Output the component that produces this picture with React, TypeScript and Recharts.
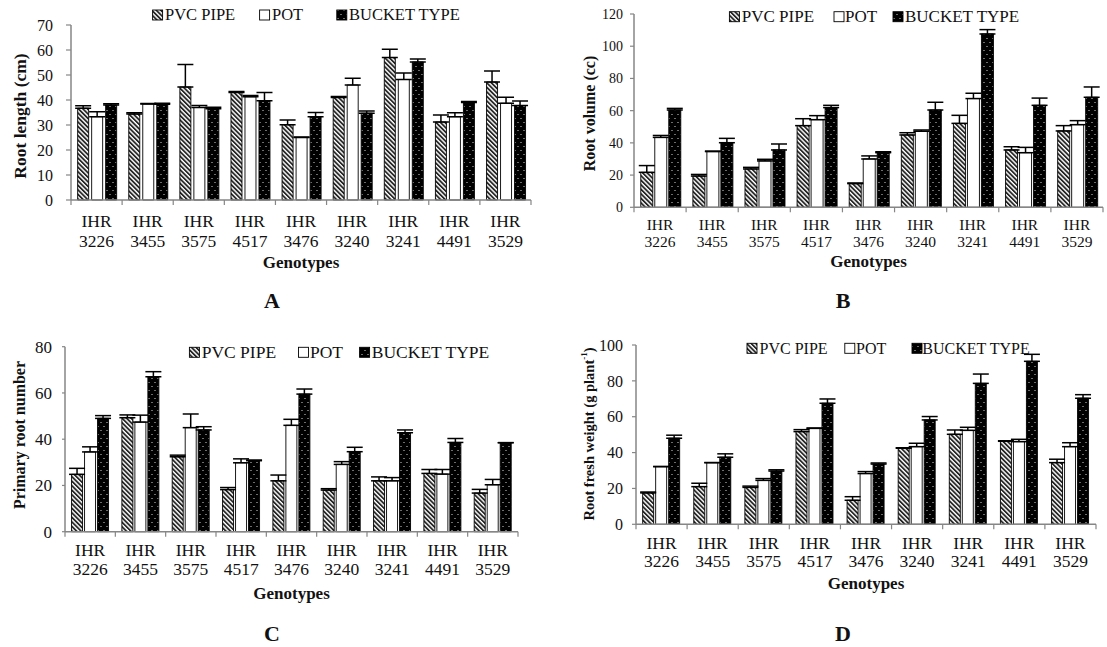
import React from 'react';
import { BarChart, Bar, XAxis, YAxis, ErrorBar, Legend, Label } from 'recharts';

// ---------------- data ----------------
const genotypes = ['IHR 3226', 'IHR 3455', 'IHR 3575', 'IHR 4517', 'IHR 3476', 'IHR 3240', 'IHR 3241', 'IHR 4491', 'IHR 3529'];
const seriesNames = ['PVC PIPE', 'POT', 'BUCKET TYPE'];

// A: Root length (cm)
const lengthPvc = [36.7, 34.4, 45.2, 43.0, 30.1, 41.0, 57.0, 31.2, 47.2];
const lengthPvcErr = [1.0, 0.5, 9.0, 0.4, 1.9, 0.4, 3.3, 2.8, 4.4];
const lengthPot = [33.3, 38.4, 37.0, 41.3, 25.0, 46.0, 48.2, 33.3, 38.7];
const lengthPotErr = [2.0, 0.2, 0.8, 0.5, 0.2, 2.7, 2.6, 1.6, 2.4];
const lengthBucket = [38.0, 38.3, 36.5, 39.7, 33.3, 34.7, 55.2, 39.0, 37.8];
const lengthBucketErr = [0.5, 0.4, 0.6, 3.3, 1.7, 0.9, 1.2, 0.4, 1.8];
const lengthTicks = [0, 10, 20, 30, 40, 50, 60, 70];

// B: Root volume (cc)
const volumePvc = [21.7, 19.4, 23.8, 50.7, 14.7, 44.9, 52.1, 35.6, 47.4];
const volumePvcErr = [4.2, 1.0, 1.0, 4.3, 0.4, 1.4, 5.0, 2.0, 3.3];
const volumePot = [43.4, 34.6, 28.8, 54.4, 30.0, 47.2, 67.5, 33.9, 51.3];
const volumePotErr = [1.2, 0.3, 1.0, 2.5, 1.9, 0.8, 3.3, 3.3, 2.5];
const volumeBucket = [60.4, 40.1, 35.6, 61.9, 33.9, 60.4, 107.6, 63.3, 68.3];
const volumeBucketErr = [1.0, 2.7, 3.7, 1.4, 0.6, 4.8, 2.7, 4.5, 6.4];
const volumeTicks = [0, 20, 40, 60, 80, 100, 120];

// C: Primary root number
const numberPvc = [24.8, 49.3, 32.4, 18.2, 22.0, 18.0, 22.0, 25.2, 16.7];
const numberPvcErr = [2.6, 1.2, 0.7, 0.9, 2.5, 0.6, 1.7, 1.7, 1.6];
const numberPot = [34.5, 47.4, 45.0, 29.8, 46.0, 29.1, 22.0, 24.9, 20.3];
const numberPotErr = [2.2, 3.0, 5.9, 1.7, 2.6, 1.2, 1.4, 2.0, 2.3];
const numberBucket = [49.0, 67.0, 44.0, 30.7, 59.5, 34.6, 42.8, 38.6, 38.5];
const numberBucketErr = [1.2, 2.2, 1.4, 0.3, 2.2, 1.9, 1.2, 1.7, 0];
const numberTicks = [0, 20, 40, 60, 80];

// D: Root fresh weight (g plant-1)
const weightPvc = [17.5, 21.0, 20.6, 51.7, 13.4, 42.4, 50.2, 46.3, 34.4];
const weightPvcErr = [0.5, 1.9, 0.7, 1.1, 2.0, 0.3, 2.4, 0.3, 1.9];
const weightPot = [32.2, 34.4, 24.5, 53.5, 28.3, 43.3, 52.4, 46.1, 43.3];
const weightPotErr = [0, 0, 1.0, 0.2, 1.1, 1.9, 1.7, 1.3, 2.2];
const weightBucket = [48.0, 37.4, 29.7, 67.5, 33.6, 58.2, 78.6, 90.9, 70.3];
const weightBucketErr = [1.7, 1.9, 0.7, 2.4, 0.6, 1.9, 5.2, 3.9, 2.0];
const weightTicks = [0, 20, 40, 60, 80, 100];

// ---------------- styling ----------------
const FONT = '"Liberation Serif", "Times New Roman", serif';
const AXIS = '#868686';
const fills = ['url(#hatchPvc)', '#ffffff', 'url(#dotsBucket)'];
const keys = ['pvc', 'pot', 'bucket'];

function buildRows(pvc: number[], pot: number[], bucket: number[], ePvc: number[], ePot: number[], eBucket: number[]) {
  return genotypes.map((g, i) => ({
    genotype: g,
    pvc: pvc[i],
    pot: pot[i],
    bucket: bucket[i],
    pvcErr: [0, ePvc[i]],
    potErr: [0, ePot[i]],
    bucketErr: [0, eBucket[i]],
  }));
}

type Cfg = {
  letter: string;
  left: number; top: number; w: number; h: number;
  plotL: number; plotR: number; plotT: number; plotB: number;
  ticks: number[];
  yLabel: React.ReactNode; yLabelX: number; yLabelY: number; yLabelFs: number;
  yTickFs: number; yTickSize: number; yTickMargin: number;
  catFs: number; dy1: number; dy2: number;
  genoY: number; letterX: number; letterY: number;
  legFs: number; legYc: number; legIcons: number[]; legTexts: number[];
  barGap: number;
  rows: any[];
};

const panels: Cfg[] = [
  {
    letter: 'A', left: 0, top: 0, w: 550, h: 320,
    plotL: 71, plotR: 531, plotT: 25, plotB: 200,
    ticks: lengthTicks,
    yLabel: 'Root  length (cm)', yLabelX: 20, yLabelY: 116, yLabelFs: 17.5,
    yTickFs: 16, yTickSize: 5, yTickMargin: 13,
    catFs: 17.5, dy1: 27, dy2: 47,
    genoY: 268, letterX: 272, letterY: 308,
    legFs: 16.5, legYc: 15, legIcons: [152.6, 259.6, 336.8], legTexts: [165, 272, 349],
    barGap: 3,
    rows: buildRows(lengthPvc, lengthPot, lengthBucket, lengthPvcErr, lengthPotErr, lengthBucketErr),
  },
  {
    letter: 'B', left: 550, top: 0, w: 557, h: 320,
    plotL: 84, plotR: 553, plotT: 14, plotB: 207.3,
    ticks: volumeTicks,
    yLabel: 'Root volume (cc)', yLabelX: 39, yLabelY: 113.5, yLabelFs: 16,
    yTickFs: 14, yTickSize: 4, yTickMargin: 7,
    catFs: 15.5, dy1: 22.5, dy2: 40,
    genoY: 267, letterX: 293, letterY: 308,
    legFs: 17, legYc: 16.7, legIcons: [179.4, 284, 343], legTexts: [191.8, 295, 355],
    barGap: 2,
    rows: buildRows(volumePvc, volumePot, volumeBucket, volumePvcErr, volumePotErr, volumeBucketErr),
  },
  {
    letter: 'C', left: 0, top: 320, w: 550, h: 327,
    plotL: 65, plotR: 518, plotT: 26.7, plotB: 211.7,
    ticks: numberTicks,
    yLabel: 'Primary root number', yLabelX: 19.3, yLabelY: 115, yLabelFs: 16,
    yTickFs: 17, yTickSize: 3, yTickMargin: 10,
    catFs: 17.5, dy1: 24.5, dy2: 43,
    genoY: 279, letterX: 272, letterY: 321,
    legFs: 17.5, legYc: 32.3, legIcons: [189.4, 298.5, 359.6], legTexts: [201.7, 310, 371.8],
    barGap: 2,
    rows: buildRows(numberPvc, numberPot, numberBucket, numberPvcErr, numberPotErr, numberBucketErr),
  },
  {
    letter: 'D', left: 550, top: 320, w: 557, h: 327,
    plotL: 86, plotR: 546, plotT: 25, plotB: 204.3,
    ticks: weightTicks,
    yLabel: (
      <>
        Root fresh weight (g plant
        <tspan dy={-5} fontSize={9}>-1</tspan>
        <tspan dy={5}>)</tspan>
      </>
    ),
    yLabelX: 38.5, yLabelY: 114, yLabelFs: 14.5,
    yTickFs: 16, yTickSize: 4, yTickMargin: 9,
    catFs: 17.5, dy1: 25, dy2: 43,
    genoY: 269, letterX: 293, letterY: 321,
    legFs: 16, legYc: 28.3, legIcons: [197, 294.8, 362], legTexts: [209.6, 306, 372.3],
    barGap: 2,
    rows: buildRows(weightPvc, weightPot, weightBucket, weightPvcErr, weightPotErr, weightBucketErr),
  },
];

const Patterns = () => (
  <svg width={0} height={0} style={{ position: 'absolute', left: 0, top: 0 }}>
    <defs>
      <pattern id="hatchPvc" width={3.2} height={3.2} patternUnits="userSpaceOnUse" patternTransform="rotate(-45)">
        <rect width={3.2} height={3.2} fill="#ffffff" />
        <line x1={0.9} y1={0} x2={0.9} y2={3.2} stroke="#262626" strokeWidth={1.8} />
      </pattern>
      <pattern id="dotsBucket" width={6} height={8} patternUnits="userSpaceOnUse">
        <rect width={6} height={8} fill="#000000" />
        <rect x={1.5} y={2} width={1} height={1} fill="#d8d8d8" />
        <rect x={4.5} y={6} width={1} height={1} fill="#d8d8d8" />
      </pattern>
    </defs>
  </svg>
);

function Panel({ p }: { p: Cfg }) {
  const band = (p.plotR - p.plotL) / genotypes.length;
  const n = genotypes.length;

  const renderTick = (props: any) => {
    const { x, y, payload, index } = props;
    const parts = String(payload.value).split(' ');
    return (
      <g>
        <line x1={x - band / 2} x2={x - band / 2} y1={y} y2={y + 5} stroke={AXIS} strokeWidth={1.2} />
        {index === n - 1 && <line x1={x + band / 2} x2={x + band / 2} y1={y} y2={y + 5} stroke={AXIS} strokeWidth={1.2} />}
        <text x={x} y={y + p.dy1} textAnchor="middle" fontSize={p.catFs} fontFamily={FONT} fill="#111">{parts[0]}</text>
        <text x={x} y={y + p.dy2} textAnchor="middle" fontSize={p.catFs} fontFamily={FONT} fill="#111">{parts[1]}</text>
      </g>
    );
  };

  const renderLegend = () => (
    <svg width={p.w} height={50} style={{ display: 'block' }}>
      {seriesNames.map((name, i) => (
        <g key={name}>
          <rect x={p.legIcons[i]} y={p.legYc - 5} width={10} height={10} fill={fills[i]} stroke="#000" strokeWidth={0.9} />
          <text x={p.legTexts[i]} y={p.legYc + p.legFs * 0.331} fontSize={p.legFs} fontFamily={FONT} fill="#111">{name}</text>
        </g>
      ))}
    </svg>
  );

  const yMax = p.ticks[p.ticks.length - 1];

  return (
    <div style={{ position: 'absolute', left: p.left, top: p.top, width: p.w, height: p.h }}>
      <BarChart
        width={p.w}
        height={p.h}
        data={p.rows}
        margin={{ top: p.plotT, right: p.w - p.plotR, bottom: 0, left: 0 }}
        barCategoryGap="13%"
        barGap={p.barGap}
      >
        <XAxis
          dataKey="genotype"
          interval={0}
          height={p.h - p.plotB}
          tickLine={false}
          tickSize={0}
          tickMargin={0}
          axisLine={{ stroke: AXIS, strokeWidth: 1.5 }}
          tick={renderTick}
        >
          <Label
            content={() => (
              <text x={(p.plotL + p.plotR) / 2} y={p.genoY} textAnchor="middle" fontSize={17} fontWeight="bold" fontFamily={FONT} fill="#111">
                Genotypes
              </text>
            )}
          />
        </XAxis>
        <YAxis
          type="number"
          domain={[0, yMax]}
          ticks={p.ticks}
          interval={0}
          width={p.plotL}
          tickSize={p.yTickSize}
          tickMargin={p.yTickMargin}
          axisLine={{ stroke: AXIS, strokeWidth: 1.5 }}
          tickLine={{ stroke: AXIS, strokeWidth: 1.2 }}
          tick={{ fill: '#111', fontSize: p.yTickFs, fontFamily: FONT }}
        >
          <Label
            content={() => (
              <text
                x={p.yLabelX}
                y={p.yLabelY}
                transform={`rotate(-90 ${p.yLabelX} ${p.yLabelY})`}
                textAnchor="middle"
                dominantBaseline="central"
                fontSize={p.yLabelFs}
                fontWeight="bold"
                fontFamily={FONT}
                fill="#111"
              >
                {p.yLabel}
              </text>
            )}
          />
        </YAxis>
        <Legend
          layout="horizontal"
          verticalAlign="middle"
          align="center"
          content={renderLegend}
          wrapperStyle={{ left: 0, top: 0, width: p.w, height: 50, pointerEvents: 'none' }}
        />
        {keys.map((k, i) => (
          <Bar key={k} dataKey={k} name={seriesNames[i]} fill={fills[i]} stroke="#000" strokeWidth={0.9} isAnimationActive={false}>
            <ErrorBar dataKey={`${k}Err`} direction="y" width={8} stroke="#000" strokeWidth={1.5} isAnimationActive={false} />
          </Bar>
        ))}
      </BarChart>
      <svg width={p.w} height={p.h} style={{ position: 'absolute', left: 0, top: 0, pointerEvents: 'none' }}>
        <text x={p.letterX} y={p.letterY} textAnchor="middle" fontSize={22} fontWeight="bold" fontFamily={FONT} fill="#111">
          {p.letter}
        </text>
      </svg>
    </div>
  );
}

export default function App() {
  return (
    <div style={{ position: 'absolute', left: 0, top: 0, width: 1107, height: 647, background: '#ffffff', overflow: 'hidden' }}>
      <Patterns />
      {panels.map((p) => (
        <Panel key={p.letter} p={p} />
      ))}
    </div>
  );
}
